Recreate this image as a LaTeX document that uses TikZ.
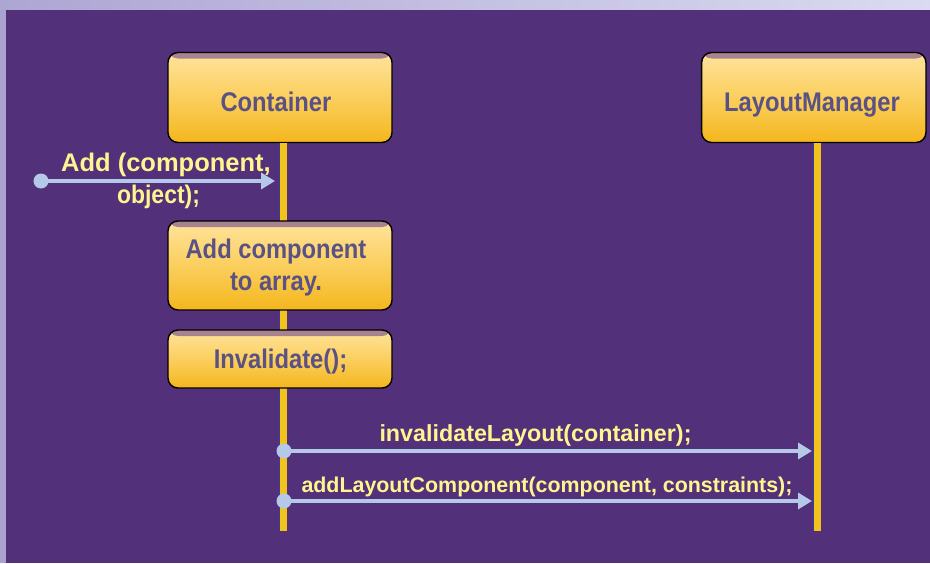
\documentclass[tikz,border=0pt]{standalone}
\usepackage{fontspec}
\setmainfont{Liberation Sans}
\newfontfamily\boxfont[FakeStretch=0.88]{Liberation Sans}
\usetikzlibrary{arrows.meta}

\definecolor{bgpurple}{HTML}{52307A}
\definecolor{edgelav}{HTML}{A9A3D0}
\definecolor{toplavL}{HTML}{ACA6D3}
\definecolor{toplavR}{HTML}{DADAF0}
\definecolor{boxtop}{HTML}{FFE39C}
\definecolor{boxmid}{HTML}{FBCF5E}
\definecolor{boxbot}{HTML}{F4B61C}
\definecolor{boxband}{HTML}{A8838F}
\definecolor{boxtext}{HTML}{5A5184}
\definecolor{msgtext}{HTML}{FFF48F}
\definecolor{msgline}{HTML}{B5C8E8}
\definecolor{lifeyellow}{HTML}{F2C31D}
\definecolor{lifeedge}{HTML}{3B3C96}

\begin{document}
\begin{tikzpicture}[x=1pt,y=-1pt,
  objbox/.style={draw=black, line width=1.4pt, rounded corners=10pt,
    inner sep=0pt, top color=boxtop, bottom color=boxbot, middle color=boxmid,
    path picture={\fill[boxband] (path picture bounding box.north west)
      rectangle ([yshift=-6pt]path picture bounding box.north east);}},
  boxlbl/.style={text=boxtext, inner sep=0pt, anchor=base,
    font=\boxfont\bfseries\fontsize{27}{30}\selectfont},
  msglbl/.style={text=msgtext, inner sep=0pt, anchor=base,
    font=\bfseries\fontsize{#1}{#1}\selectfont},
  lifeline/.style={draw=lifeyellow, line width=8pt},
  lifeborder/.style={draw=lifeedge, line width=0.8pt},
  msg/.style={draw=msgline, line width=3.5pt,
    -{Triangle[length=14pt,width=16pt]}},
  msgdot/.style={fill=msgline}
]
\useasboundingbox (0,0) rectangle (930,563);

% backdrop with its lavender edges
\fill[bgpurple] (0,0) rectangle (930,563);
\fill[edgelav] (0,0) rectangle (6,563);
\shade[left color=toplavL, right color=toplavR] (0,0) rectangle (930,9);

% lifeline ends
\coordinate (contEnd) at (283,531);
\coordinate (lmEnd) at (817,531);

% object boxes
\node[objbox, minimum width=224pt, minimum height=90pt] (cont) at (280,97.5) {};
\node[objbox, minimum width=224.3pt, minimum height=90pt] (lm) at (813.8,97.5) {};

% lifelines (behind the activity boxes)
\draw[lifeline] (contEnd |- cont.south) -- (contEnd);
\draw[lifeborder] ([xshift=-4pt]contEnd |- cont.south) -- ([xshift=-4pt]contEnd);
\draw[lifeline] (lmEnd |- lm.south) -- (lmEnd);
\draw[lifeborder] ([xshift=-4pt]lmEnd |- lm.south) -- ([xshift=-4pt]lmEnd);

% activity boxes on the container lifeline
\node[objbox, minimum width=224pt, minimum height=89pt] (addarr) at (280,265.5) {};
\node[objbox, minimum width=224pt, minimum height=58pt] (inval) at (280,359) {};

% box captions
\node[boxlbl] (contTxt) at (276,111.7) {Container};
\node[boxlbl] (lmTxt) at (812,111) {LayoutManager};
\node[boxlbl] (addTxtA) at (276,258) {Add component};
\node[boxlbl] (addTxtB) at (276,290) {to array.};
\node[boxlbl] (invTxt) at (280.5,368) {Invalidate();};

% messages
\coordinate (m1s) at (41,181);
\coordinate (m1e) at (275,181);
\coordinate (m2s) at (284,451);
\coordinate (m2e) at ([xshift=-5pt]lmEnd |- m2s);
\coordinate (m3s) at (284,501);
\coordinate (m3e) at ([xshift=-5pt]lmEnd |- m3s);

\draw[msg] (m1s) -- (m1e);
\fill[msgdot] (m1s) circle[radius=7.5pt];
\draw[msg] (m2s) -- (m2e);
\fill[msgdot] (m2s) circle[radius=7.5pt];
\draw[msg] (m3s) -- (m3e);
\fill[msgdot] (m3s) circle[radius=7.5pt];

% message captions
\node[msglbl=25.5] (m1TxtA) at (166,171.7) {Add (component,};
\node[msglbl=25.5] (m1TxtB) at (158.5,203) {\scalebox{0.9}[1]{object);}};
\node[msglbl=23.3] (m2Txt) at (535.5,441.7) {invalidateLayout(container);};
\node[msglbl=21.4] (m3Txt) at (547,492.7) {addLayoutComponent(component, constraints);};
\end{tikzpicture}
\end{document}
